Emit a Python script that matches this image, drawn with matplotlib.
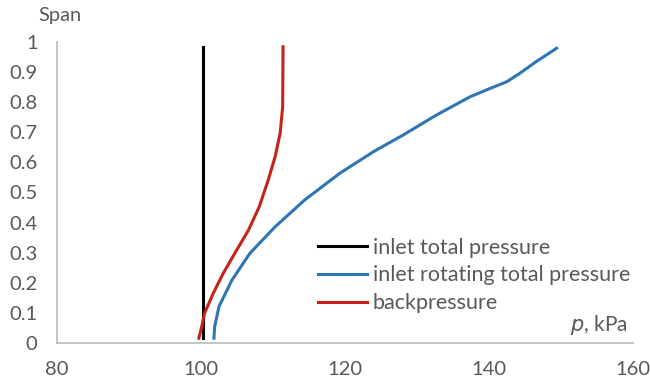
import matplotlib
matplotlib.use("Agg")
import matplotlib.pyplot as plt

plt.rcParams['font.family'] = ['Lato', 'DejaVu Sans']

# inlet total pressure (kPa) vs span
span_total = [0.017, 0.982]
p_total = [100.3, 100.3]

# inlet rotating total pressure
span_rot = [0.016, 0.054, 0.121, 0.209, 0.298, 0.386, 0.475, 0.564, 0.636, 0.691,
            0.757, 0.818, 0.841, 0.868, 0.896, 0.935, 0.979]
p_rot = [101.8, 101.9, 102.5, 104.3, 106.8, 110.3, 114.4, 119.3, 124.0, 128.1,
         132.7, 137.4, 139.7, 142.5, 144.3, 146.6, 149.4]

# backpressure
span_back = [0.016, 0.054, 0.099, 0.165, 0.232, 0.298, 0.375, 0.453, 0.542, 0.619,
             0.697, 0.785, 0.984]
p_back = [99.7, 100.1, 100.5, 101.7, 103.1, 104.7, 106.6, 108.1, 109.35, 110.3,
          111.0, 111.35, 111.4]

labels = ['inlet total pressure', 'inlet rotating total pressure', 'backpressure']
colors = ['#000000', '#2E75B6', '#C5221C']
gray = '#595959'

fig = plt.figure(figsize=(6.5, 3.86), dpi=100)
ax = fig.add_axes([0.0877, 0.1114, 0.886, 0.78])

ax.plot(p_total, span_total, color=colors[0], lw=2.2, label=labels[0])
ax.plot(p_rot, span_rot, color=colors[1], lw=2.2, label=labels[1], solid_joinstyle='round')
ax.plot(p_back, span_back, color=colors[2], lw=2.2, label=labels[2], solid_joinstyle='round')

ax.set_xlim(80, 160)
ax.set_ylim(0, 1)
ax.set_xticks([80, 100, 120, 140, 160])
ax.set_yticks([i / 10 for i in range(11)])
ax.set_yticklabels(['0', '0.1', '0.2', '0.3', '0.4', '0.5', '0.6', '0.7', '0.8', '0.9', '1'])
ax.tick_params(length=0, labelsize=14.5, colors=gray, pad=14)
ax.tick_params(axis='x', pad=13)

for s in ['top', 'right']:
    ax.spines[s].set_visible(False)
for s in ['left', 'bottom']:
    ax.spines[s].set_color('#BFBFBF')
    ax.spines[s].set_linewidth(1.3)

fig.text(38 / 650, 1 - 15 / 386, 'Span', fontsize=14.5, color=gray, va='center', ha='left')
ax.text(0.99, 0.02, '$\\it{p}$, kPa', transform=ax.transAxes, fontsize=15, color=gray,
        ha='right', va='bottom')

leg = ax.legend(loc='upper left', bbox_to_anchor=(0.453, 0.35), frameon=False, fontsize=15.5,
                labelcolor=gray, handlelength=2.3, handletextpad=0.25, borderpad=0,
                borderaxespad=0, labelspacing=0.36)

fig.savefig('out.png', dpi=100)
